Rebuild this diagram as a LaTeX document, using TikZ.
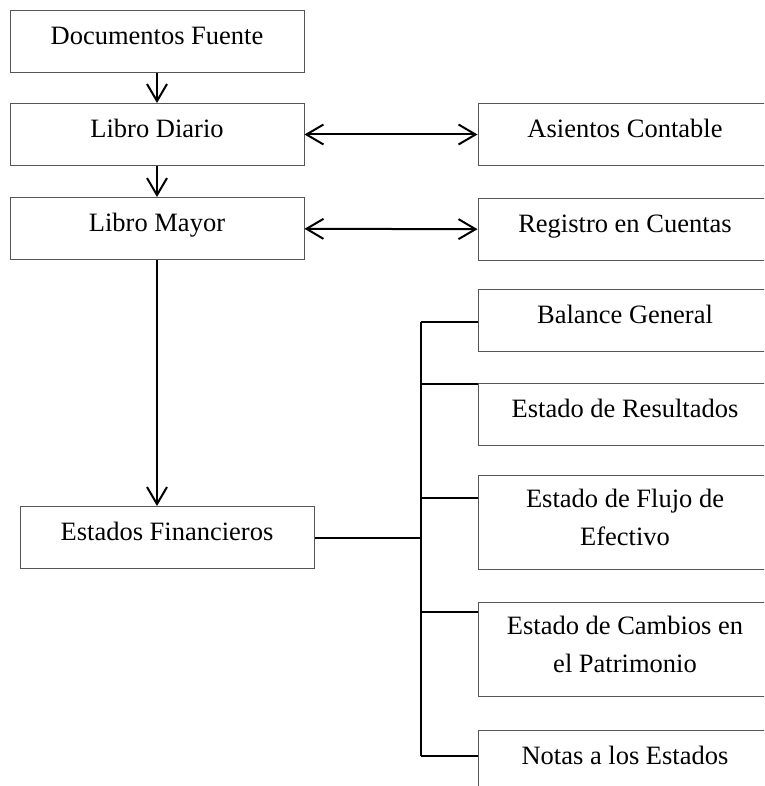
\documentclass[tikz,border=0pt]{standalone}
\usepackage{fontspec}
\setmainfont{Liberation Serif}
\usepackage{tikz}
\usetikzlibrary{calc,arrows.meta}
\definecolor{ink}{HTML}{000000}
\definecolor{frame}{HTML}{555555}
\tikzset{
  box/.style={draw=frame, line width=1pt, fill=white, inner sep=0pt, minimum width=294pt,
    text height=34pt, text depth=28pt, align=center, anchor=north,
    font=\fontsize{26.5}{38.5}\selectfont},
  tall/.style={box, text height=70pt, text depth=24pt},
  link/.style={draw=ink, line width=2pt},
  flow/.style={link, -{Straight Barb[length=17pt,width=20pt]}},
  both/.style={link, {Straight Barb[length=17pt,width=20pt]}-{Straight Barb[length=17pt,width=20pt]}},
}
\begin{document}
\begin{tikzpicture}[x=1pt,y=-1pt]
  \useasboundingbox (0,0) rectangle (764,786);
  \clip (0,0) rectangle (764,786);

  % main chain
  \node[box] (fuente) at (157,10) {Documentos Fuente};
  \node[box] (diario) at (157,103) {Libro Diario};
  \node[box] (mayor) at (157,197) {Libro Mayor};
  \node[box] (financieros) at (167,506) {Estados Financieros};

  % side boxes
  \node[box] (asientos) at (625,103) {Asientos Contable};
  \node[box] (registro) at (625,198) {Registro en Cuentas};

  % statements
  \node[box] (balance) at (625,289) {Balance General};
  \node[box] (resultados) at (625,383) {Estado de Resultados};
  \node[tall] (flujo) at (625,475) {Estado de Flujo de\\Efectivo};
  \node[tall] (cambios) at (625,602) {Estado de Cambios en\\el Patrimonio};
  \node[box] (notas) at (625,730) {Notas a los Estados};

  \draw[flow] (fuente) -- (diario);
  \draw[flow] (diario) -- (mayor);
  \draw[flow] (mayor.south) -- (mayor.south |- financieros.north);
  \draw[both] (diario) -- (asientos);
  \draw[both] (mayor) -- (registro);

  % bracket to the statements
  \coordinate (bus) at (421,0);
  \foreach \b/\d in {balance/33,resultados/1,flujo/23,cambios/10,notas/26}
    \coordinate (\b-in) at ([yshift=-\d pt]\b.north west);
  \draw[link] (financieros.east) -- (financieros.east -| bus);
  \draw[link] (bus |- balance-in) -- (bus |- notas-in);
  \foreach \b in {balance,resultados,flujo,cambios,notas}
    \draw[link] (bus |- \b-in) -- (\b-in);
\end{tikzpicture}
\end{document}
